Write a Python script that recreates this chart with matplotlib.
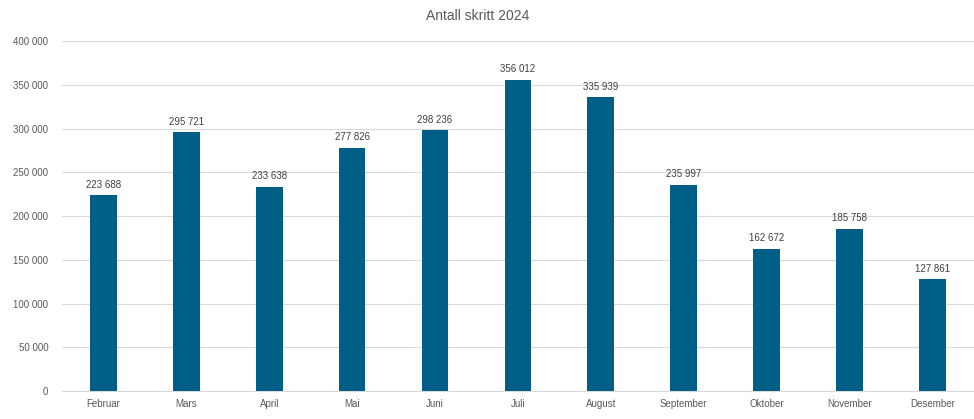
import matplotlib
matplotlib.use("Agg")
from matplotlib import pyplot as plt
from matplotlib.ticker import FuncFormatter, MultipleLocator

months = ["Februar", "Mars", "April", "Mai", "Juni", "Juli", "August",
          "September", "Oktober", "November", "Desember"]
steps = [223688, 295721, 233638, 277826, 298236, 356012, 335939,
         235997, 162672, 185758, 127861]

plt.rcParams.update({"font.family": ["Liberation Sans", "DejaVu Sans"]})

bar_color = "#005f87"
text_color = "#595959"
grid_color = "#d9d9d9"


def spaced(v, pos=None):
    return "{:,.0f}".format(v).replace(",", " ")


fig = plt.figure(figsize=(9.74, 4.19), dpi=100)
ax = fig.add_axes([0.0637, 0.0668, 0.936, 0.835])

x = range(len(months))
cont = ax.bar(x, steps, width=0.32, color=bar_color, zorder=3)
ax.bar_label(cont, labels=[spaced(v) for v in steps], padding=4,
             fontsize=7, color="#404040")

ax.set_xlim(-0.5, len(months) - 0.5)
ax.set_ylim(0, 400000)
ax.yaxis.set_major_locator(MultipleLocator(50000))
ax.yaxis.set_major_formatter(FuncFormatter(spaced))
ax.set_xticks(list(x))
ax.set_xticklabels(months)
ax.tick_params(axis="both", length=0, labelsize=7, labelcolor=text_color)
ax.tick_params(axis="y", pad=10)
ax.tick_params(axis="x", pad=6)
ax.grid(axis="y", color=grid_color, linewidth=0.8, zorder=0)
for s in ["top", "right", "left"]:
    ax.spines[s].set_visible(False)
ax.spines["bottom"].set_color(grid_color)
ax.spines["bottom"].set_linewidth(0.8)

fig.text(478 / 974, 1 - 16 / 419, "Antall skritt 2024", ha="center", va="center",
         fontsize=10, color=text_color)

fig.savefig("out.png", dpi=100)
